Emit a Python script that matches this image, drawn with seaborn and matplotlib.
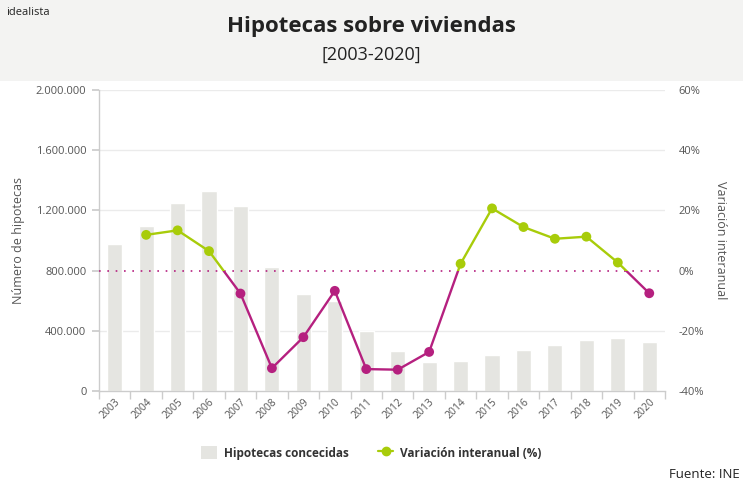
import numpy as np
import pandas as pd
import matplotlib
matplotlib.use("Agg")
import matplotlib.pyplot as plt
from matplotlib.patches import Rectangle, Patch
from matplotlib.lines import Line2D
from matplotlib.ticker import FuncFormatter, FixedLocator
import seaborn as sns

years = [str(y) for y in range(2003, 2021)]
hipotecas = [977000, 1096000, 1249000, 1329000, 1229000, 824000, 644000, 600000,
             400000, 266000, 193000, 199000, 239000, 272000, 306000, 339000, 352000, 326000]
var_years = [str(y) for y in range(2004, 2021)]
variacion = [11.9, 13.4, 6.5, -7.6, -32.4, -22.1, -6.7, -32.7, -32.9, -27.0,
             2.3, 20.7, 14.5, 10.6, 11.3, 2.7, -7.5]

GREEN = "#a8cc0a"
MAGENTA = "#b5207f"
BAR = "#e5e5e1"
TXT = "#555555"

sns.set_theme(style="white")
plt.rcParams['font.family'] = ['Open Sans', 'DejaVu Sans']

fig = plt.figure(figsize=(7.43, 4.87), dpi=100)
fig.patches.append(Rectangle((0, 0.834), 1, 0.166, transform=fig.transFigure,
                             facecolor="#f3f3f2", edgecolor="none", zorder=0))
fig.text(0.008, 0.975, "idealista", fontsize=8, color="#222222", va="center", ha="left")
fig.text(0.5, 0.945, "Hipotecas sobre viviendas", fontsize=16, fontweight="bold",
         color="#222222", ha="center", va="center")
fig.text(0.5, 0.887, "[2003-2020]", fontsize=13, color="#222222", ha="center", va="center")

ax = fig.add_axes([0.1332, 0.197, 0.7618, 0.618])
df = pd.DataFrame({"year": years, "hipotecas": hipotecas})
sns.barplot(data=df, x="year", y="hipotecas", color=BAR, width=0.48, ax=ax,
            saturation=1, zorder=2)
ax.set_xlim(-0.5, len(years) - 0.5)
ax.set_ylim(0, 2000000)
ax.set_yticks([0, 400000, 800000, 1200000, 1600000, 2000000])
ax.yaxis.set_major_formatter(FuncFormatter(lambda v, p: f"{int(v):,}".replace(",", ".")))
for v in [400000, 1200000, 1600000, 2000000]:
    ax.axhline(v, color="#ebebeb", lw=1, zorder=1)
ax.set_xlabel("")
ax.set_ylabel("Número de hipotecas", color=TXT, fontsize=9, labelpad=8)
ax.tick_params(axis="y", labelsize=8, colors=TXT, left=True, length=5, color="#cccccc", pad=4)
ax.tick_params(axis="x", which="major", length=0, labelsize=7.5, colors=TXT, pad=4)
ax.xaxis.set_minor_locator(FixedLocator(np.arange(-0.5, len(years), 1.0)))
ax.tick_params(axis="x", which="minor", bottom=True, length=6, color="#cccccc")
plt.setp(ax.get_xticklabels(), rotation=45, ha="right", rotation_mode="anchor")
for s in ["top", "right"]:
    ax.spines[s].set_visible(False)
for s in ["left", "bottom"]:
    ax.spines[s].set_color("#cccccc")
    ax.spines[s].set_linewidth(1)

ax2 = ax.twinx()
ax2.set_ylim(-40, 60)
ax2.set_yticks([-40, -20, 0, 20, 40, 60])
ax2.yaxis.set_major_formatter(FuncFormatter(lambda v, p: f"{int(v)}%"))
ax2.tick_params(axis="y", labelsize=8, colors=TXT, length=0, pad=10)
for s in ["top", "right", "left", "bottom"]:
    ax2.spines[s].set_visible(False)
ax2.set_ylabel("Variación interanual", color=TXT, fontsize=9, rotation=270, labelpad=16)
ax2.axhline(0, color=MAGENTA, lw=1.2, ls=(0, (1, 4)), zorder=3)

pos = [years.index(y) for y in var_years]
vdf = pd.DataFrame({"x": pos, "v": variacion})
sns.lineplot(data=vdf, x="x", y="v", color=GREEN, lw=1.7, ax=ax2, zorder=4)
sns.lineplot(data=vdf, x="x", y="v", color=MAGENTA, lw=1.7, ax=ax2, zorder=4)
lines = ax2.get_lines()[-2:]
lines[0].set_clip_path(Rectangle((-1, 0), 30, 100, transform=ax2.transData))
lines[1].set_clip_path(Rectangle((-1, -100), 30, 100, transform=ax2.transData))
vdf["sign"] = np.where(vdf["v"] >= 0, "pos", "neg")
sns.scatterplot(data=vdf, x="x", y="v", hue="sign", palette={"pos": GREEN, "neg": MAGENTA},
                s=50, edgecolor="none", ax=ax2, legend=False, zorder=5)
ax2.set_xlim(-0.5, len(years) - 0.5)
ax2.set_xlabel("")

handles = [Patch(facecolor=BAR, edgecolor="none"),
           Line2D([0], [0], color=GREEN, lw=1.6, marker="o", markersize=6)]
leg = fig.legend(handles, ["Hipotecas concecidas", "Variación interanual (%)"],
                 loc="center", bbox_to_anchor=(0.5, 0.07), ncol=2, frameon=False,
                 prop={"weight": "bold", "size": 8.5}, handlelength=1.3, handleheight=1.3,
                 columnspacing=2.5, handletextpad=0.6)
for t in leg.get_texts():
    t.set_color("#333333")
fig.text(0.995, 0.025, "Fuente: INE", fontsize=9.5, color="#222222", ha="right", va="center")

fig.savefig("out.png", dpi=100)
